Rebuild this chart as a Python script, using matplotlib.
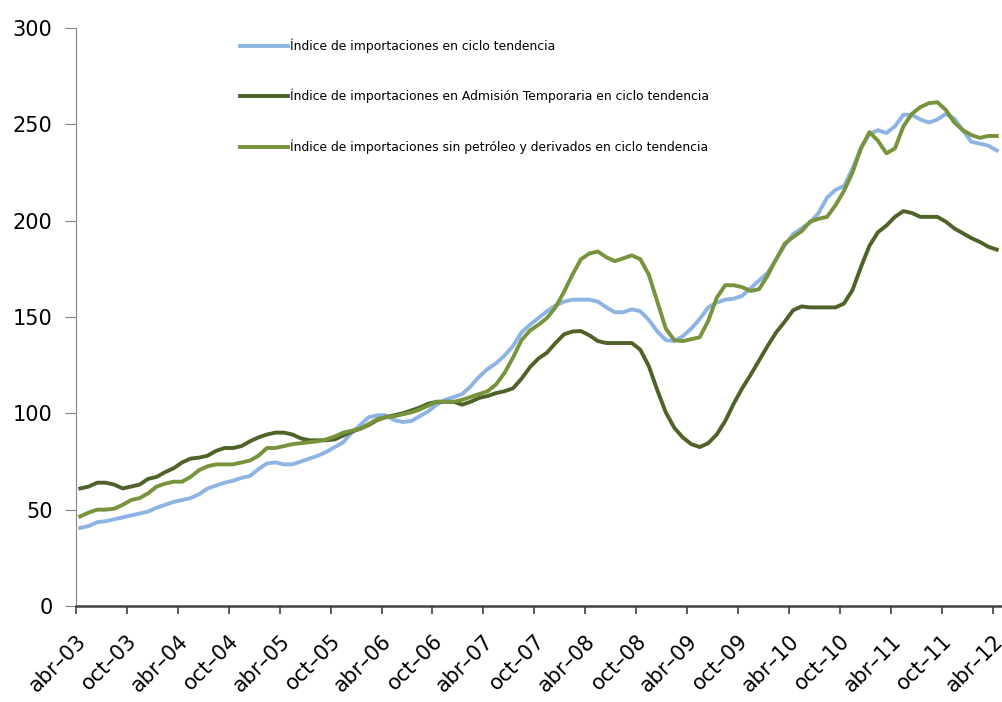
import matplotlib
matplotlib.use("Agg")
import matplotlib.pyplot as plt
import numpy as np

# monthly data, abr-03 .. abr-12
years = ["03", "04", "05", "06", "07", "08", "09", "10", "11", "12"]
tick_labels = []
for y in years:
    tick_labels.append("abr\u2013" + y)
    if y != "12":
        tick_labels.append("oct\u2013" + y)

total = [
    40.5, 41.5, 43.5, 44, 45, 46, 47, 48, 49, 51,
    52.5, 54, 55, 56, 58, 61, 62.5, 64, 65, 66.5,
    67.5, 71, 74, 74.5, 73.5, 73.5, 75, 76.5, 78, 80,
    82.5, 85, 90, 94, 98, 99, 99, 96.5, 95.5, 96,
    98.5, 101, 104.5, 107, 108.5, 110, 114, 119, 123, 126,
    130, 135, 142, 146, 149.5, 153, 156, 158, 159, 159,
    159, 158, 155, 152.5, 152.5, 154, 153, 148.5, 142.5, 138,
    137.5, 140, 144, 149, 155, 157.5, 159, 159.5, 161, 165,
    169, 173, 180, 187, 193, 196, 199, 204, 212, 216,
    218, 227, 238, 245, 247, 245.5, 249, 255, 255, 252.5,
    251, 252.5, 255.5, 253, 247, 241, 240, 239, 236.5,
]

temporaria = [
    61, 62, 64, 64, 63, 61, 62, 63, 66, 67,
    69.5, 71.5, 74.5, 76.5, 77, 78, 80.5, 82, 82, 83,
    85.5, 87.5, 89, 90, 90, 89, 87, 86, 86, 86,
    86.5, 88.5, 90.5, 92, 94, 96.5, 98, 99, 100, 101.5,
    103, 105, 106, 106, 106, 104.5, 106, 108, 109, 110.5,
    111.5, 113, 118, 124, 128.5, 131.5, 136.5, 141, 142.5, 142.7,
    140.5, 137.5, 136.5, 136.5, 136.5, 136.5, 133, 124.5, 112, 100.5,
    92.5, 87.5, 84, 82.5, 84.5, 89, 96, 105, 113, 120,
    127.5, 135, 142, 147.5, 153.5, 155.5, 155, 155, 155, 155,
    157, 164, 176, 187, 194, 197.5, 202, 205, 204, 202,
    202, 202, 199.5, 196, 193.5, 191, 189, 186.5, 185,
]

sin_petroleo = [
    46.5, 48.5, 50, 50, 50.5, 52.5, 55, 56, 58.5, 62,
    63.5, 64.5, 64.5, 67, 70.5, 72.5, 73.5, 73.5, 73.5, 74.5,
    75.5, 78, 82, 82, 83, 84, 84.5, 85, 85.5, 86.5,
    88, 90, 91, 92, 94.5, 97, 98, 98.5, 99.5, 100.5,
    102, 104, 106, 106, 106, 107, 108.5, 110, 111.5, 115,
    121, 129, 138, 143, 146, 149.5, 155, 163, 172, 180,
    183, 184, 181, 179, 180.5, 182, 180, 172, 158, 144,
    138, 137.5, 138.5, 139.5, 148, 160, 166.5, 166.5, 165.5, 163.5,
    164.5, 171.5, 180, 188, 191.5, 194.5, 199.5, 201, 202, 208,
    215.5, 225, 237.5, 246, 241.5, 235, 237.5, 249, 255.5, 259,
    261, 261.5, 257.5, 251, 247, 244.5, 243, 244, 244,
]

labels = [
    "\u00cdndice de importaciones en ciclo tendencia",
    "\u00cdndice de importaciones en Admisi\u00f3n Temporaria en ciclo tendencia",
    "\u00cdndice de importaciones sin petr\u00f3leo y derivados en ciclo tendencia",
]
colors = ["#8DB4E2", "#4F6228", "#77933C"]


def main() -> None:
    plt.rcParams["font.family"] = ["DejaVu Sans"]
    fig = plt.figure(figsize=(10.03, 7.02), dpi=100)
    ax = fig.add_axes([0.0758, 0.1368, 0.9222, 0.8232])

    x = np.arange(len(total))
    for series, lab, col in zip([total, temporaria, sin_petroleo], labels, colors):
        ax.plot(x, series, color=col, lw=2.8, label=lab, solid_joinstyle="round")

    ax.set_xlim(-0.5, len(total) - 0.5)
    ax.set_ylim(0, 300)
    ax.set_yticks(range(0, 301, 50))
    ax.tick_params(axis="y", labelsize=15, length=8, color="#868686", pad=9)
    ax.set_xticks(np.arange(0, len(total), 6) - 0.5)
    ax.set_xticklabels(tick_labels, rotation=45, ha="right", rotation_mode="anchor")
    ax.tick_params(axis="x", labelsize=15, length=6, width=1.2, color="#404040", pad=12)

    ax.spines["top"].set_visible(False)
    ax.spines["right"].set_visible(False)
    ax.spines["left"].set_color("#868686")
    ax.spines["bottom"].set_color("#404040")
    ax.spines["bottom"].set_linewidth(1.8)

    ax.legend(loc="upper left", bbox_to_anchor=(0.234, 0.952),
              bbox_transform=fig.transFigure, frameon=False, fontsize=8.9,
              handlelength=3.9, handletextpad=0.15, labelspacing=2.9,
              borderaxespad=0)

    fig.savefig("out.png", dpi=100)


if __name__ == "__main__":
    main()
